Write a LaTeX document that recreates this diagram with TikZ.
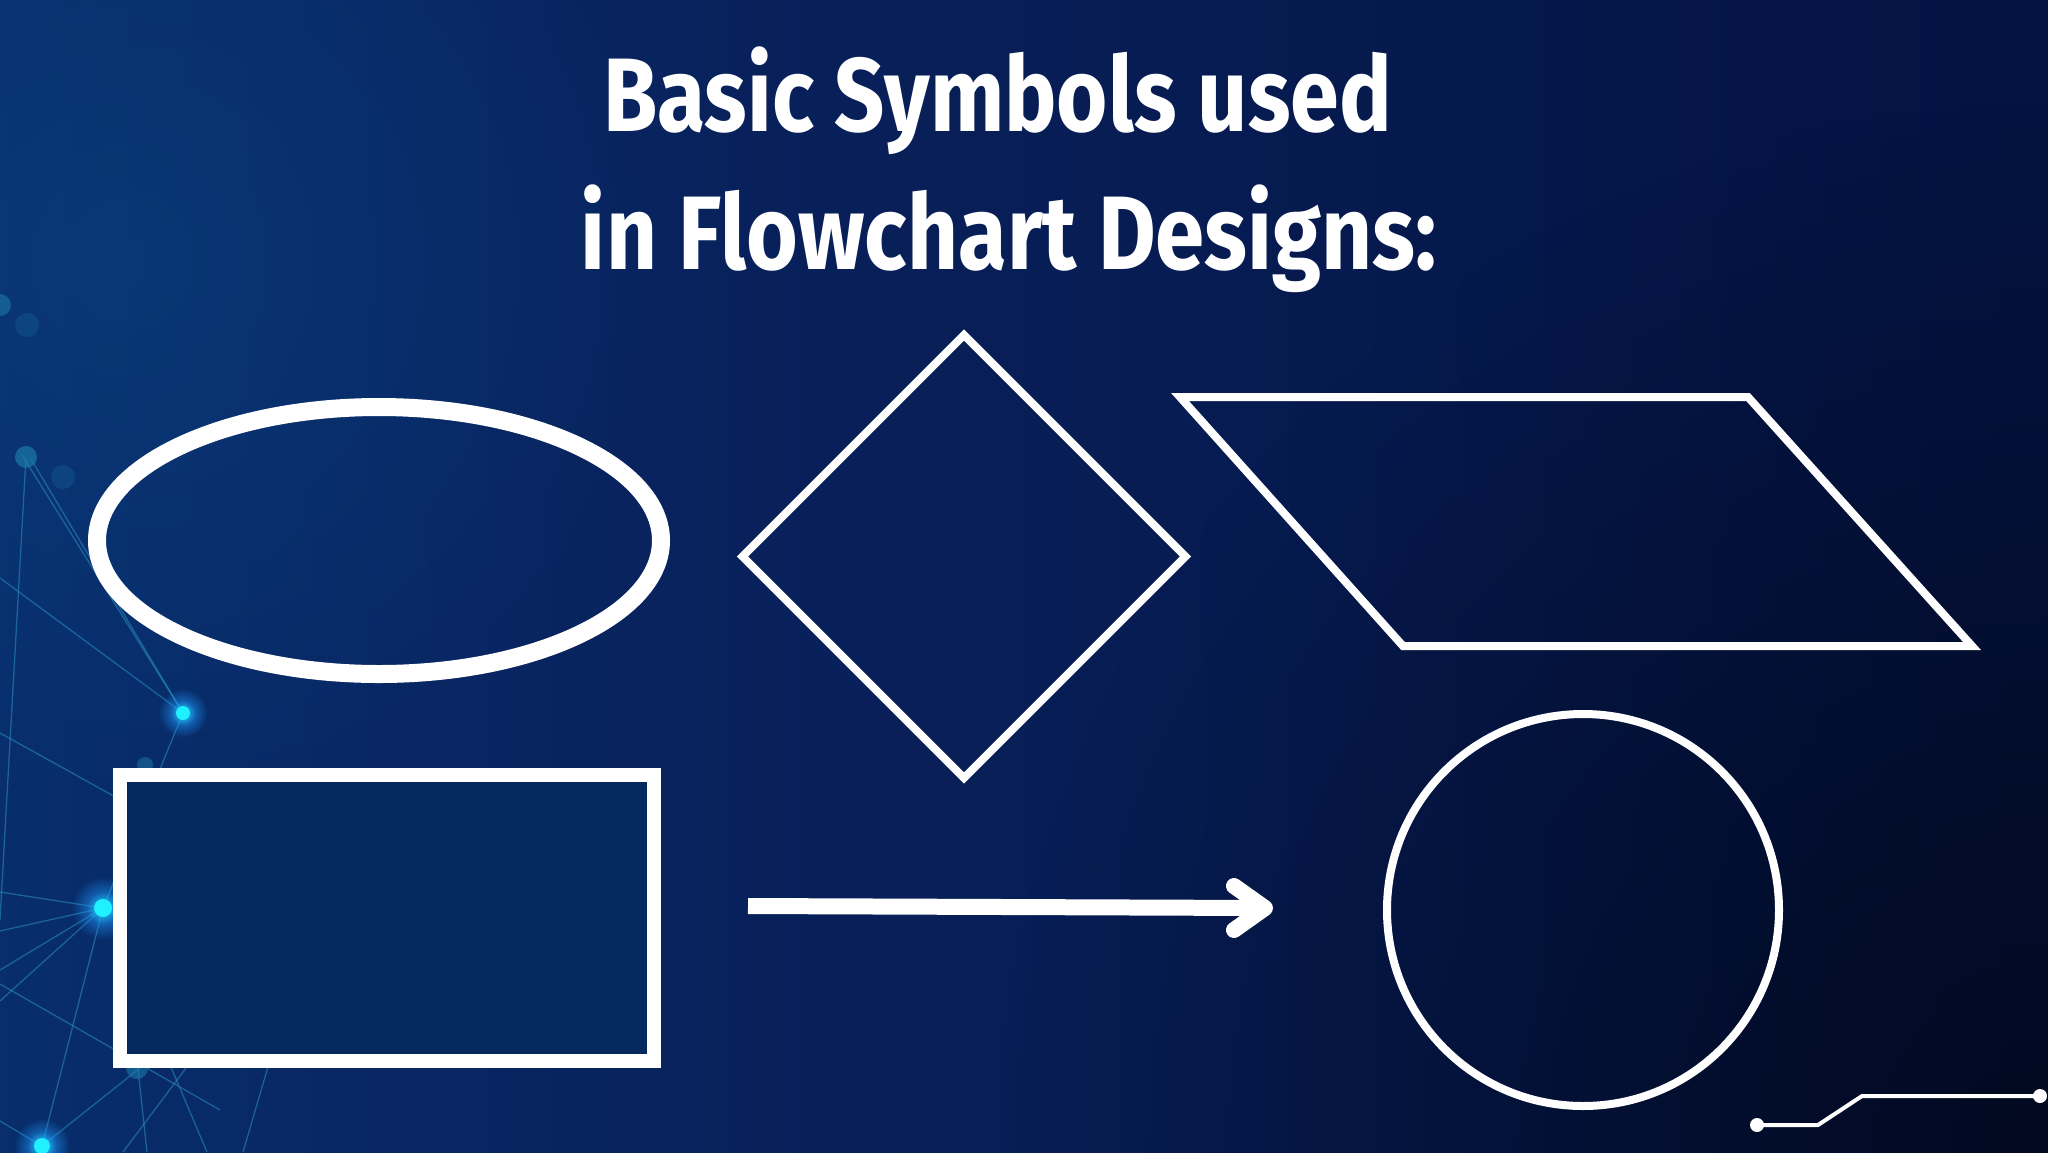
\documentclass[tikz,border=0pt]{standalone}
\usepackage{fontspec}
\usepackage{graphicx}
\usetikzlibrary{shapes.geometric,fadings,calc}
\newfontfamily\titlefont{Fira Sans}
\definecolor{bgA}{HTML}{0A3B79}
\definecolor{bgB}{HTML}{083170}
\definecolor{bgC}{HTML}{08205A}
\definecolor{bgD}{HTML}{041444}
\definecolor{bgE}{HTML}{030C30}
\definecolor{bgGlow}{HTML}{0D4C8E}
\definecolor{rectfill}{HTML}{05295F}
\definecolor{netblue}{HTML}{2B8FC4}
\definecolor{glowblue}{HTML}{1E9BFF}
\definecolor{dotcyan}{HTML}{20F0FF}
\definecolor{fadedot}{HTML}{1B78A8}
\pgfdeclarehorizontalshading{bgshade}{100bp}{color(0bp)=(bgA); color(20bp)=(bgB); color(45bp)=(bgC); color(70bp)=(bgD); color(100bp)=(bgE)}
\tikzfading[name=glowfade, inner color=transparent!0, outer color=transparent!100]
\tikzset{
  shapeline/.style={draw=white, inner sep=0pt, outer sep=0pt},
  netline/.style={draw=netblue, line width=1.3pt, opacity=0.55},
  titletext/.style={text=white, anchor=base, inner sep=0pt},
  glowdot/.style={fill=dotcyan},
}
\begin{document}
\begin{tikzpicture}[x=1pt,y=-1pt]
\useasboundingbox (0,0) rectangle (2048,1152);
% background
\shade[shading=bgshade] (0,0) rectangle (2048,1152);
\fill[bgGlow, opacity=0.35, path fading=glowfade] (120,260) circle (560);
\fill[black, opacity=0.5, path fading=glowfade] (2048,1152) circle (1050);

% network coordinates
\coordinate (nA) at (183,713);
\coordinate (nB) at (103,908);
\coordinate (nC) at (42,1146);
\coordinate (nD) at (26,457);
% network lines
\draw[netline] (22,455) -- (nA);
\draw[netline] (31,459) -- (nA);
\draw[netline] (0,578) -- (nA);
\draw[netline] (nD) -- (0,920);
\draw[netline] (0,733) -- (220,855);
\draw[netline] (nA) -- (nB);
\draw[netline] (nB) -- (0,892);
\draw[netline] (nB) -- (0,931);
\draw[netline] (nB) -- (0,970);
\draw[netline] (nB) -- (0,1001);
\draw[netline] (nB) -- (220,950);
\draw[netline] (nB) -- (220,990);
\draw[netline] (0,984) -- (220,1110);
\draw[netline] (nB) -- (nC);
\draw[netline] (nC) -- (150,1060);
\draw[netline] (nC) -- (0,1121);
\draw[netline] (137,1060) -- (147,1152);
\draw[netline] (168,1060) -- (207,1152);
\draw[netline] (192,1060) -- (123,1152);
\draw[netline] (270,1060) -- (243,1152);
% faded dots
\fill[fadedot, opacity=0.7] (nD) circle (11);
\fill[fadedot, opacity=0.6] (0,305) circle (11);
\fill[fadedot, opacity=0.25] (27,325) circle (12);
\fill[fadedot, opacity=0.25] (63,477) circle (12);
\fill[fadedot, opacity=0.6] (137,1068) circle (11);
\fill[fadedot, opacity=0.5] (145,765) circle (8);
% glowing dots
\foreach \p/\r in {nA/7, nB/9, nC/8}{
  \fill[glowblue, opacity=0.9, path fading=glowfade] (\p) circle (\r*3.5);
  \fill[dotcyan, opacity=0.6, path fading=glowfade] (\p) circle (\r*1.8);
  \fill[glowdot] (\p) circle (\r);
}

% title
\node[titletext] (title1) at (997.5,131) {\resizebox{789pt}{\height}{\titlefont\bfseries\fontsize{104.5pt}{120pt}\selectfont Basic Symbols used}};
\node[titletext] (title2) at (1009,269) {\resizebox{856pt}{\height}{\titlefont\bfseries\fontsize{104.5pt}{120pt}\selectfont in Flowchart Designs:}};

% symbols
\node[shapeline, ellipse, line width=18pt, minimum width=564pt, minimum height=267pt] (terminal) at (379,540.5) {};
\node[shapeline, diamond, aspect=1, line width=8pt, minimum width=443pt, minimum height=443pt] (decision) at (964,556.5) {};
\coordinate (pTL) at (1180,397);
\coordinate (pTR) at (1748,397);
\coordinate (pBR) at (1972,646);
\coordinate (pBL) at (1403,646);
\draw[white, line width=8pt] (pTL) -- (pTR) -- (pBR) -- (pBL) -- cycle;
\node[shapeline, fill=rectfill, line width=14pt, minimum width=534pt, minimum height=285.5pt] (process) at (387,917.75) {};
\node[shapeline, circle, line width=8pt, minimum size=392pt] (connector) at (1583,910) {};

% arrow
\coordinate (arrS) at (748,906);
\coordinate (arrE) at (1262,908);
\coordinate (arrTip) at (1265,908);
\coordinate (arrU) at (1234,886);
\coordinate (arrL) at (1234,930);
\draw[white, line width=16pt] (arrS) -- (arrE);
\draw[white, line width=16pt, line cap=round, line join=round] (arrU) -- (arrTip) -- (arrL);

% circuit trace
\coordinate (c1) at (1757,1125);
\coordinate (c2) at (1818,1125);
\coordinate (c3) at (1862,1096);
\coordinate (c4) at (2040,1096);
\draw[white, line width=4pt, line join=round] (c1) -- (c2) -- (c3) -- (c4);
\fill[white] (c1) circle (7);
\fill[white] (c4) circle (7);
\end{tikzpicture}
\end{document}
